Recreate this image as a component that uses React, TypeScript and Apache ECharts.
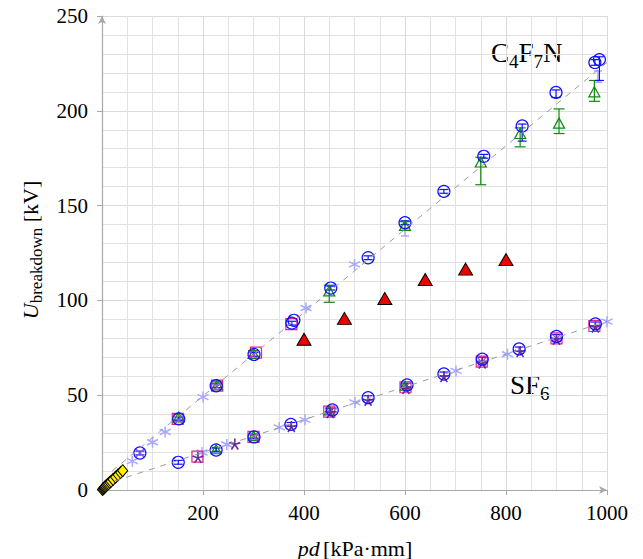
import React, { useEffect, useRef } from "react";
import * as echarts from "echarts";

// ---------- data ----------
const xTickValues = [0, 200, 400, 600, 800, 1000];
const yTickValues = [0, 50, 100, 150, 200, 250];

const upperFit = [[20, 10], [1000, 225.5]];
const lowerFit = [[25, 4.7], [1000, 89]];

const yellowDiamonds = [
  [1, 0.3], [2.5, 0.7], [4, 1.1], [5.5, 1.5], [7, 1.9], [9, 2.4], [11, 2.9], [13, 3.4],
  [15.5, 4], [18, 4.6], [22, 5.6], [27, 6.8], [32, 8], [37, 9.2], [41, 10.2],
];

const redTriangles = [[400, 79.5], [480, 90.5], [560, 101], [640, 111], [720, 116.5], [800, 121.5]];

const asteriskC4 = [[60, 15.2], [100, 25.2], [125, 30.6], [200, 49], [404, 96], [500, 119]];
const asteriskSF6 = [[198, 19.8], [247, 24], [351, 33], [402, 37], [501, 46.2], [701, 62.8], [803, 71.6], [1000, 88.8]];
const asteriskErr = [[600, 134, 140], [982, 215, 221]];

const squaresC4 = [[150, 37.5], [228, 55], [305, 72.5], [375, 87.5]];
const squaresSF6 = [[189, 17.6], [300, 28], [450, 41.3], [601, 54.2], [752, 67.7], [900, 80], [975, 86.5]];

const trianglesC4 = [[152, 38.5], [228, 55.5], [300, 72], [450, 105], [600, 139.5], [750, 173], [828, 188], [905, 193.5], [975, 210]];
const trianglesC4Err = [[152, 37, 40], [228, 54, 57], [300, 70.5, 73.5], [450, 99, 108], [600, 137, 141.5], [750, 161, 175.5], [828, 181, 191], [905, 188, 201], [975, 205, 216]];
const trianglesSF6 = [[226, 21.5], [300, 28.5], [450, 42], [600, 55]];
const trianglesSF6Err = [[226, 20.5, 22.5], [300, 27.5, 29.5], [450, 41, 43], [600, 54, 56]];

const crossesC4 = [[75, 19.5], [152, 37], [228, 54.5], [300, 71]];
const crossesSF6 = [[300, 28], [450, 41.5], [601, 54.5], [752, 67.5], [900, 80]];

const starsSF6 = [[190, 17.2], [263, 24.3], [375, 33.5], [452, 40.8], [527, 47.3], [602, 53.5], [677, 59.8], [753, 67], [828, 73], [900, 79.5], [977, 86]];

const circlesC4 = [[75, 19.5], [152, 37.5], [226, 55], [301, 71.5], [376, 88], [380, 89.5], [453, 106.5], [527, 122.5], [600, 141], [677, 157.5], [756, 176], [832, 192], [899, 209.7], [976, 225.5], [985, 227]];
const circlesC4Err = [[75, 18.5, 20.5], [152, 36.5, 38.5], [226, 54, 56], [301, 70.5, 72.5], [376, 87, 89], [453, 105.5, 107.5], [527, 121.5, 123.5], [600, 140, 142], [677, 156.5, 158.5], [756, 175, 177], [832, 184, 193], [899, 207, 211], [976, 224, 227], [985, 216, 228.5]];
const circlesSF6 = [[151, 14.6], [226, 21.1], [301, 28], [374, 34.6], [456, 42.2], [527, 48.7], [604, 55.4], [677, 61.2], [753, 69], [826, 74.4], [900, 81], [977, 87.6]];
const circlesSF6Err = [[151, 13.6, 15.6], [226, 20.1, 22.1], [301, 27, 29], [374, 33.6, 35.6], [456, 41.2, 43.2], [527, 47.7, 49.7], [604, 54.4, 56.4], [677, 60.2, 62.2], [753, 68, 70], [826, 73.4, 75.4], [900, 80, 82], [977, 86.6, 88.6]];

const labelC4 = ["C", "4", "F", "7", "N"];
const labelSF6 = ["S", "F", "6"];

// ---------- styles ----------
const SERIF = "'Liberation Serif', 'Times New Roman', serif";
const BLUE = "#1010ff";
const GREEN = "#118811";
const MAGENTA = "#e8208a";
const LAVENDER = "#a8a8ff";
const PURPLE = "#6a2a9a";
const VIOLET = "#8a5ad0";
const NONE = "rgba(0,0,0,0)";

const ASTERISK = "path://M5,0 L5,10 M0.67,2.5 L9.33,7.5 M0.67,7.5 L9.33,2.5";
const STAR5 = "path://M5,0 L5,5 M0.25,3.45 L5,5 M2.06,9.05 L5,5 M7.94,9.05 L5,5 M9.75,3.45 L5,5";
const XMARK = "path://M0,0 L10,10 M0,10 L10,0";

function errorSeries(data: number[][], color: string, half: number, width = 1) {
  return {
    type: "custom",
    coordinateSystem: "cartesian2d",
    silent: true,
    clip: false,
    encode: { x: 0, y: [1, 2] },
    data,
    renderItem: (params: any, api: any) => {
      const x = api.value(0);
      const lo = api.coord([x, api.value(1)]);
      const hi = api.coord([x, api.value(2)]);
      const st = { stroke: color, lineWidth: width, fill: null };
      return {
        type: "group",
        children: [
          { type: "line", shape: { x1: lo[0], y1: lo[1], x2: hi[0], y2: hi[1] }, style: st },
          { type: "line", shape: { x1: lo[0] - half, y1: lo[1], x2: lo[0] + half, y2: lo[1] }, style: st },
          { type: "line", shape: { x1: hi[0] - half, y1: hi[1], x2: hi[0] + half, y2: hi[1] }, style: st },
        ],
      };
    },
  };
}

function scatter(data: number[][], symbol: string, size: any, fill: string, stroke: string, bw = 1) {
  return {
    type: "scatter",
    data,
    symbol,
    symbolSize: size,
    silent: true,
    itemStyle: { color: fill, borderColor: stroke, borderWidth: bw, opacity: 1 },
  };
}

function fitLine(data: number[][]) {
  return {
    type: "line",
    data,
    showSymbol: false,
    silent: true,
    lineStyle: { color: "#9c9c9c", width: 1, type: [6, 6] },
  };
}

function richLabel(parts: string[], subIdx: number[], main: number, sub: number) {
  let text = "";
  parts.forEach((p, i) => {
    text += subIdx.includes(i) ? `{s|${p}}` : `{m|${p}}`;
  });
  return {
    text,
    rich: {
      m: { fontFamily: SERIF, fontSize: main, lineHeight: main + 8, verticalAlign: "bottom", padding: [0, 0, 5, 0], fill: "#000" },
      s: { fontFamily: SERIF, fontSize: sub, lineHeight: main + 8, verticalAlign: "bottom", fill: "#000" },
    },
  };
}

const axisGray = "#a8a8a8";
const plainNumber = (v: number) => String(v);

const option: any = {
  animation: false,
  grid: { left: 102, right: 36, top: 16, bottom: 69, containLabel: false },
  xAxis: {
    type: "value",
    min: xTickValues[0],
    max: xTickValues[xTickValues.length - 1],
    interval: 200,
    axisLine: { show: true, onZero: false, lineStyle: { color: axisGray, width: 1.2 }, symbol: ["none", "arrow"], symbolSize: [6, 8] },
    axisTick: { show: true, length: 5, lineStyle: { color: axisGray } },
    axisLabel: { showMinLabel: false, fontFamily: SERIF, fontSize: 21, color: "#000", margin: 12, formatter: plainNumber },
    splitLine: { show: true, lineStyle: { color: "#dadada", width: 1 } },
    minorTick: { show: false, splitNumber: 4 },
    minorSplitLine: { show: true, lineStyle: { color: "#e2e2e2", width: 1 } },
  },
  yAxis: {
    type: "value",
    min: yTickValues[0],
    max: yTickValues[yTickValues.length - 1],
    interval: 50,
    axisLine: { show: true, onZero: false, lineStyle: { color: axisGray, width: 1.2 }, symbol: ["none", "arrow"], symbolSize: [6, 8] },
    axisTick: { show: true, length: 5, lineStyle: { color: axisGray } },
    axisLabel: { fontFamily: SERIF, fontSize: 21, color: "#000", margin: 14, formatter: plainNumber },
    splitLine: { show: true, lineStyle: { color: "#dadada", width: 1 } },
    minorTick: { show: false, splitNumber: 5 },
    minorSplitLine: { show: true, lineStyle: { color: "#e2e2e2", width: 1 } },
  },
  series: [
    fitLine(upperFit),
    fitLine(lowerFit),
    scatter(yellowDiamonds, "diamond", [10, 12], "#ffee00", "#000", 1),
    scatter(redTriangles, "triangle", [14, 12], "#ee0000", "#000", 1),
    errorSeries(asteriskErr, LAVENDER, 4, 1.5),
    scatter(asteriskC4, ASTERISK, 11, NONE, LAVENDER, 1.5),
    scatter(asteriskSF6, ASTERISK, 11, NONE, LAVENDER, 1.5),
    scatter(squaresC4, "rect", 11, NONE, MAGENTA, 1.2),
    scatter(squaresSF6, "rect", 11, NONE, MAGENTA, 1.2),
    errorSeries(trianglesC4Err, GREEN, 5.5, 1.2),
    errorSeries(trianglesSF6Err, GREEN, 4, 1.2),
    scatter(trianglesC4, "triangle", [11, 10], NONE, GREEN, 1.2),
    scatter(trianglesSF6, "triangle", [10, 9], NONE, GREEN, 1.2),
    scatter(crossesC4, XMARK, 8, NONE, VIOLET, 1.2),
    scatter(crossesSF6, XMARK, 8, NONE, VIOLET, 1.2),
    scatter(starsSF6, STAR5, 11, NONE, PURPLE, 1.6),
    errorSeries(circlesC4Err, BLUE, 4.5, 1.2),
    errorSeries(circlesSF6Err, BLUE, 4.5, 1.2),
    scatter(circlesC4, "circle", 12, NONE, BLUE, 1.2),
    scatter(circlesSF6, "circle", 12, NONE, BLUE, 1.2),
  ],
  graphic: [
    {
      type: "text",
      x: 491,
      y: 36,
      silent: true,
      style: { ...richLabel(labelC4, [1, 3], 27, 19), align: "left", verticalAlign: "top" },
    },
    {
      type: "text",
      x: 510,
      y: 368,
      silent: true,
      style: { ...richLabel(labelSF6, [2], 27, 19), align: "left", verticalAlign: "top" },
    },
    {
      type: "text",
      x: 355,
      y: 548,
      silent: true,
      style: {
        text: "{i|pd} {n|[kPa·mm]}",
        align: "center",
        verticalAlign: "middle",
        rich: {
          i: { fontFamily: SERIF, fontSize: 22, fontStyle: "italic", fill: "#000" },
          n: { fontFamily: SERIF, fontSize: 22, fill: "#000" },
        },
      },
    },
    {
      type: "text",
      x: 30,
      y: 250,
      rotation: Math.PI / 2,
      silent: true,
      style: {
        text: "{i|U}{s|breakdown}{n| [kV]}",
        align: "center",
        verticalAlign: "middle",
        rich: {
          i: { fontFamily: SERIF, fontSize: 22, fontStyle: "italic", lineHeight: 30, verticalAlign: "bottom", padding: [0, 0, 4, 0], fill: "#000" },
          s: { fontFamily: SERIF, fontSize: 17, lineHeight: 30, verticalAlign: "bottom", fill: "#000" },
          n: { fontFamily: SERIF, fontSize: 22, lineHeight: 30, verticalAlign: "bottom", padding: [0, 0, 4, 0], fill: "#000" },
        },
      },
    },
  ],
};

export default function App() {
  const ref = useRef<HTMLDivElement>(null);
  useEffect(() => {
    const chart = echarts.init(ref.current!, null, { renderer: "svg" });
    chart.setOption(option);
    return () => chart.dispose();
  }, []);
  return (
    <div
      ref={ref}
      style={{ position: "fixed", left: 0, top: 0, width: 643, height: 559, background: "#fff" }}
    />
  );
}
